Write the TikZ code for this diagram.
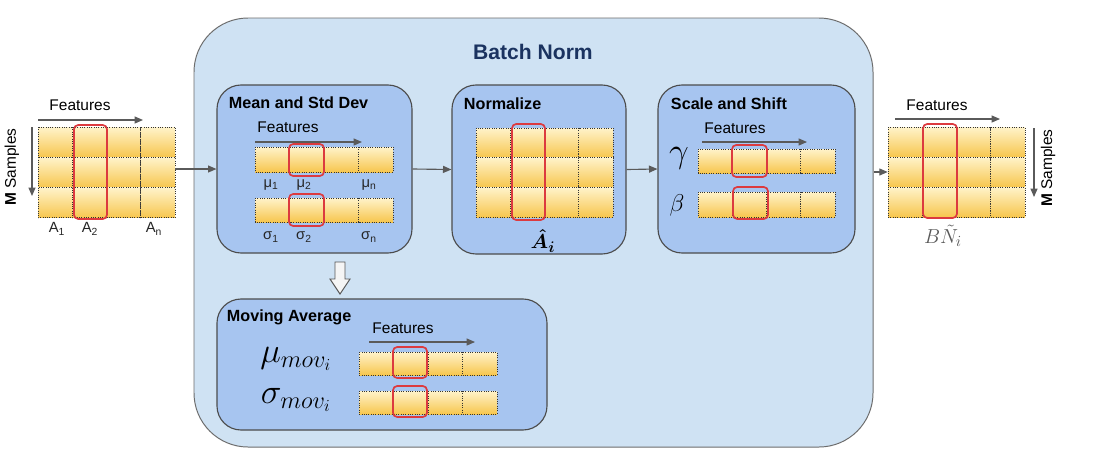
\documentclass[tikz,border=0pt]{standalone}
\usepackage{amsmath}
\usepackage{fontspec}
\setmainfont{Liberation Sans}
\usetikzlibrary{fit,arrows.meta}

\definecolor{outerblue}{HTML}{CFE2F3}
\definecolor{innerblue}{HTML}{A7C5F0}
\definecolor{cellhi}{HTML}{FFF3CA}
\definecolor{celllo}{HTML}{F7C64E}
\definecolor{pickred}{HTML}{DC3A3F}
\definecolor{linegray}{HTML}{5A5A5A}
\definecolor{titlenavy}{HTML}{1B3360}

% one block of 4 feature columns, #5 rows
\newcommand{\featgrid}[5]{%
  \foreach \c in {0,...,3}
    \foreach \r in {1,...,#5}
      \draw[cell] ({#1+\c*#3},{#2+(\r-1)*#4}) rectangle ++(#3,#4);
}

\begin{document}
\begin{tikzpicture}[x=0.025cm, y=-0.025cm,
    outerbox/.style={draw=gray!85!black, line width=0.7pt, fill=outerblue, rounded corners=1.35cm, inner sep=0pt},
    stagebox/.style={draw=gray!60!black, line width=0.8pt, fill=innerblue, rounded corners=0.6cm, inner sep=0pt},
    cell/.style={top color=cellhi, bottom color=celllo, draw=gray!40!black, densely dotted, line width=0.65pt},
    pick/.style={draw=pickred, line width=1.2pt, rounded corners=3pt},
    conn/.style={draw=linegray, line width=0.8pt, -{Triangle[length=6pt,width=5pt]}},
    axis/.style={draw=linegray, line width=0.8pt, -{Triangle[length=6pt,width=5pt]}},
    lbl/.style={font=\fontsize{11}{13}\selectfont},
    stagetitle/.style={font=\fontsize{11.5}{13}\selectfont\bfseries, anchor=west},
    sub/.style={font=\fontsize{10.5}{12}\selectfont, text=black!85}]

  % background
  \path[use as bounding box] (0,0) rectangle (1097,468);

  % batch norm frame
  \node[outerbox, fit={(194,18) (873,447)}] (bn) {};
  \node[font=\fontsize{15}{18}\selectfont\bfseries, text=titlenavy] (title) at (533,52) {Batch Norm};

  % stages
  \node[stagebox, fit={(217,85) (412,253)}] (mean) {};
  \node[stagebox, fit={(452,85) (626,254)}] (norm) {};
  \node[stagebox, fit={(658,85) (855,253)}] (scale) {};
  \node[stagebox, fit={(217,299) (547,430)}] (moving) {};

  \node[stagetitle] (meantitle) at (224,103) {Mean and Std Dev};
  \node[stagetitle] (normtitle) at (459,104) {Normalize};
  \node[stagetitle] (scaletitle) at (666,104) {Scale and Shift};
  \node[stagetitle] (movtitle) at (222,317) {Moving Average};

  % input
  \featgrid{38}{127}{34.25}{30.3}{3}
  \node[fit={(38,127) (175,218)}, inner sep=0pt] (inmat) {};
  \draw[pick] (74,125) rectangle (107,219);
  \node[lbl] (infeat) at (80,105) {Features};
  \draw[axis] (38,120) -- (143,120);
  \node[lbl, rotate=90] (insamp) at (12,167) {\textbf{M} Samples};
  \draw[axis] (32,127) -- (32,196);
  \node[sub] (a1) at (57,229) {A\textsubscript{1}};
  \node[sub] (a2) at (90,229) {A\textsubscript{2}};
  \node[sub] (an) at (154,229) {A\textsubscript{n}};

  % mean and std dev
  \node[lbl] (meanfeat) at (288,127) {Features};
  \draw[axis] (255,142) -- (362,142);
  \featgrid{255}{147}{34.5}{25}{1}
  \draw[pick] (289,144) rectangle (324,176);
  \node[sub] (mu1) at (271,185) {μ\textsubscript{1}};
  \node[sub] (mu2) at (304,185) {μ\textsubscript{2}};
  \node[sub] (mun) at (369,185) {μ\textsubscript{n}};
  \featgrid{255}{198}{34.5}{24}{1}
  \draw[pick] (289,194) rectangle (324,226);
  \node[sub] (sd1) at (271,237) {σ\textsubscript{1}};
  \node[sub] (sd2) at (304,237) {σ\textsubscript{2}};
  \node[sub] (sdn) at (369,237) {σ\textsubscript{n}};

  % normalize
  \featgrid{476}{128}{34.25}{29.7}{3}
  \draw[pick] (512,124) rectangle (545,220);
  \node[font=\fontsize{15}{17}\selectfont] (ahat) at (543,241) {$\boldsymbol{\hat{A}_i}$};

  % scale and shift
  \node[lbl] (scalefeat) at (735,128) {Features};
  \draw[axis] (702,142) -- (807,142);
  \featgrid{698}{149}{34.25}{24}{1}
  \draw[pick] (732,145) rectangle (767,177);
  \featgrid{698}{192}{34.25}{25}{1}
  \draw[pick] (733,187) rectangle (768,219);
  \node[font=\fontsize{26}{28}\selectfont] (gam) at (679,158) {$\gamma$};
  \node[font=\fontsize{19}{22}\selectfont] (bet) at (677,205) {$\beta$};

  % moving average
  \node[lbl] (movfeat) at (403,328) {Features};
  \draw[axis] (369,342) -- (475,342);
  \featgrid{359}{352}{34.5}{23}{1}
  \draw[pick] (393,347) rectangle (427,378);
  \featgrid{359}{391}{34.5}{23}{1}
  \draw[pick] (393,386) rectangle (427,417);
  \node[font=\fontsize{26}{30}\selectfont] (mumov) at (296,359) {$\mu_{mov_i}$};
  \node[font=\fontsize{26}{30}\selectfont] (sdmov) at (296,400) {$\sigma_{mov_i}$};

  % output
  \featgrid{888}{127}{34.25}{30}{3}
  \node[fit={(888,127) (1025,217)}, inner sep=0pt] (outmat) {};
  \draw[pick] (923,124) rectangle (957,218);
  \node[lbl] (outfeat) at (937,105) {Features};
  \draw[axis] (895,119) -- (1000,119);
  \node[lbl, rotate=90] (outsamp) at (1048,168) {\textbf{M} Samples};
  \draw[axis] (1034,128) -- (1034,197);
  \node[font=\fontsize{15}{17}\selectfont, text=black!65] (bnout) at (943,236) {$B\tilde{N}_i$};

  % connectors
  \draw[conn] (inmat.east |- mean.west) -- (mean.west);
  \draw[conn] (mean.east) -- (norm.west);
  \draw[conn] (norm.east) -- (scale.west);
  \draw[conn] (outmat.west -| bn.east) -- (outmat.west);
  % hollow arrow down to the moving average
  \draw[draw=gray!70!black, fill=gray!8, line width=0.7pt, line join=miter]
    (335,262) -- (345,262) -- (345,279) -- (350,279) -- (340,294) -- (330,279) -- (335,279) -- cycle;
\end{tikzpicture}
\end{document}
